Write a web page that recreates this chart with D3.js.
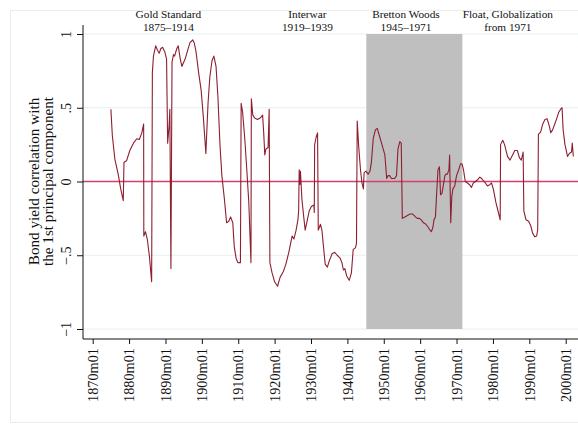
<!DOCTYPE html>
<html>
<head>
<meta charset="utf-8">
<script src="https://cdn.jsdelivr.net/npm/d3@7"></script>
<style>
  html, body { margin: 0; padding: 0; background: #fff; }
  svg { display: block; }
  text { font-family: "Liberation Serif", "Times New Roman", serif; fill: #111; }
</style>
</head>
<body>
<svg id="chart" width="578" height="433"></svg>
<script>
// Time (decimal years) and bond yield correlation with the 1st principal component
const t = [
  1875.0, 1875.4, 1876.1, 1877.0, 1877.7, 1878.4, 1878.6, 1879.3, 1880.2, 1881.2,
  1882.1, 1882.8, 1883.5, 1884.0, 1884.05, 1884.5, 1885.0, 1885.6, 1886.2, 1886.4,
  1886.7, 1887.3, 1887.8, 1888.3, 1888.7, 1889.2, 1889.8, 1890.3, 1890.6, 1891.0,
  1891.2, 1891.5, 1891.8, 1892.2, 1892.5, 1893.1, 1893.5, 1894.0, 1894.5, 1895.4,
  1896.0, 1896.7, 1897.5, 1897.9, 1898.4, 1899.1, 1899.8, 1900.4, 1901.1, 1901.7,
  1902.2, 1902.8, 1903.3, 1903.9, 1904.4, 1905.0, 1905.5, 1906.2, 1906.8, 1907.4,
  1907.9, 1908.5, 1908.9, 1909.4, 1909.9, 1910.6, 1910.8, 1911.2, 1911.8, 1912.3,
  1912.9, 1913.5, 1913.6, 1914.0, 1914.5, 1915.3, 1916.0, 1916.7, 1917.0, 1917.3,
  1917.6, 1918.2, 1918.5, 1918.7, 1919.3, 1920.0, 1920.8, 1921.5, 1922.4, 1923.1,
  1923.9, 1924.8, 1925.3, 1925.9, 1926.4, 1926.6, 1926.75, 1926.95, 1927.1, 1927.5,
  1928.0, 1928.4, 1929.0, 1929.5, 1930.1, 1930.8, 1930.9, 1931.0, 1931.4, 1931.8,
  1932.0, 1932.6, 1933.0, 1933.5, 1933.9, 1934.5, 1935.0, 1935.8, 1936.5, 1937.2,
  1938.0, 1938.5, 1938.9, 1939.3, 1939.8, 1940.5, 1941.1, 1941.6, 1942.2, 1942.5,
  1942.7, 1943.1, 1943.6, 1944.0, 1944.4, 1944.6, 1945.1, 1945.7, 1946.2, 1946.6,
  1947.1, 1947.7, 1948.2, 1948.8, 1949.5, 1950.3, 1950.8, 1951.2, 1951.6, 1952.1,
  1953.0, 1953.5, 1953.9, 1954.4, 1954.8, 1955.1, 1955.8, 1956.5, 1957.2, 1957.9,
  1958.7, 1959.2, 1959.8, 1960.3, 1960.9, 1961.6, 1962.2, 1962.7, 1963.1, 1963.5,
  1963.8, 1964.2, 1964.6, 1964.9, 1965.3, 1965.6, 1966.0, 1966.4, 1966.8, 1967.1,
  1967.5, 1967.9, 1968.1, 1968.4, 1968.7, 1969.0, 1969.5, 1970.0, 1970.6, 1971.1,
  1971.5, 1971.9, 1972.4, 1973.0, 1973.5, 1974.1, 1974.6, 1975.2, 1975.7, 1976.4,
  1976.9, 1977.6, 1978.5, 1979.2, 1979.6, 1980.1, 1980.8, 1981.4, 1982.0, 1982.1,
  1982.7, 1983.2, 1984.0, 1984.7, 1985.4, 1986.0, 1986.7, 1987.3, 1987.8, 1988.3,
  1988.5, 1989.1, 1989.8, 1990.4, 1990.9, 1991.5, 1992.0, 1992.3, 1992.5, 1993.1,
  1993.7, 1994.3, 1994.9, 1995.5, 1995.9, 1996.4, 1997.0, 1997.5, 1998.1, 1998.6,
  1999.0, 1999.3, 1999.8, 2000.5, 2001.0, 2001.6, 2001.8, 2002.1
];
const corr = [
  0.49, 0.31, 0.15, 0.05, -0.05, -0.13, 0.13, 0.14, 0.21, 0.26,
  0.29, 0.285, 0.33, 0.39, -0.37, -0.34, -0.39, -0.51, -0.68, 0.74,
  0.85, 0.92, 0.89, 0.87, 0.90, 0.91, 0.88, 0.83, 0.26, 0.38,
  0.49, -0.59, 0.81, 0.86, 0.85, 0.90, 0.92, 0.84, 0.78, 0.83,
  0.88, 0.94, 0.96, 0.94, 0.88, 0.74, 0.62, 0.44, 0.19, 0.53,
  0.71, 0.82, 0.85, 0.78, 0.58, 0.24, 0.04, -0.12, -0.28, -0.27,
  -0.24, -0.28, -0.44, -0.52, -0.55, -0.55, 0.53, 0.47, 0.29, 0.10,
  -0.14, -0.55, 0.56, 0.45, 0.43, 0.42, 0.43, 0.45, 0.33, 0.18,
  0.22, 0.23, 0.49, -0.55, -0.62, -0.68, -0.71, -0.65, -0.61, -0.56,
  -0.48, -0.37, -0.39, -0.33, -0.26, -0.20, 0.08, -0.02, 0.07, -0.12,
  -0.24, -0.33, -0.26, -0.20, -0.17, -0.16, -0.21, 0.25, 0.30, 0.33,
  -0.33, -0.29, -0.33, -0.46, -0.56, -0.58, -0.54, -0.49, -0.48, -0.50,
  -0.52, -0.55, -0.60, -0.59, -0.64, -0.67, -0.62, -0.46, -0.45, -0.42,
  0.41, 0.24, 0.08, -0.01, -0.05, 0.06, 0.07, 0.05, 0.07, 0.13,
  0.29, 0.35, 0.36, 0.31, 0.25, 0.18, 0.02, 0.04, 0.04, 0.02,
  0.02, 0.04, 0.22, 0.27, 0.26, -0.25, -0.24, -0.23, -0.22, -0.22,
  -0.24, -0.25, -0.25, -0.26, -0.28, -0.29, -0.31, -0.33, -0.34, -0.31,
  -0.26, -0.24, -0.05, 0.08, 0.10, -0.09, -0.08, -0.02, 0.04, 0.05,
  0.05, 0.08, 0.18, -0.28, -0.10, -0.05, -0.03, 0.04, 0.08, 0.12,
  0.12, 0.08, 0.00, -0.01, -0.02, -0.04, -0.01, 0.00, 0.01, 0.03,
  0.02, 0.00, -0.03, -0.02, -0.01, -0.05, -0.14, -0.20, -0.26, 0.25,
  0.28, 0.25, 0.17, 0.145, 0.18, 0.21, 0.21, 0.16, 0.145, 0.20,
  -0.20, -0.26, -0.27, -0.30, -0.35, -0.375, -0.37, -0.33, 0.32, 0.335,
  0.39, 0.42, 0.425, 0.375, 0.33, 0.35, 0.39, 0.425, 0.47, 0.49,
  0.50, 0.35, 0.25, 0.17, 0.19, 0.20, 0.26, 0.17
];

// Monetary regimes: header text and the year each header is centred on
const regimeTitles = ["Gold Standard", "Interwar", "Bretton Woods", "Float, Globalization"];
const regimeSubtitles = ["1875\u20131914", "1919\u20131939", "1945\u20131971", "from 1971"];
const regimeLabelAt = [1890.8, 1929.0, 1956.1, 1984.1];

// Shaded Bretton Woods period
const bandStart = 1945.2;
const bandEnd = 1971.6;

const xTicks = d3.range(1870, 2001, 10);
const yTicks = [-1, -0.5, 0, 0.5, 1];
const yTickText = ["\u22121", "\u2212.5", "0", ".5", "1"];

const svg = d3.select("#chart");
const W = 578;

const x = d3.scaleLinear().domain([1870, 2000]).range([92.7, 565.7]);
const y = d3.scaleLinear().domain([-1, 1]).range([329, 34]);

const plotLeft = 83, plotRight = W, axisY = 339, axisTop = 25;

// faint outer frame of the graph region
svg.append("rect")
  .attr("x", 10.5).attr("y", 10.5)
  .attr("width", W).attr("height", 412)
  .attr("fill", "none").attr("stroke", "#e6eef0").attr("stroke-width", 1);

// horizontal gridlines
svg.append("g").selectAll("line")
  .data(yTicks.filter(d => d !== 0))
  .join("line")
  .attr("x1", plotLeft).attr("x2", plotRight)
  .attr("y1", d => y(d)).attr("y2", d => y(d))
  .attr("stroke", "#e4eef0").attr("stroke-width", 1);

// Bretton Woods shading
svg.append("rect")
  .attr("x", x(bandStart)).attr("y", y(1))
  .attr("width", x(bandEnd) - x(bandStart))
  .attr("height", y(-1) - y(1))
  .attr("fill", "#bfbfbf");

// zero reference line
svg.append("line")
  .attr("x1", plotLeft).attr("x2", plotRight)
  .attr("y1", y(0)).attr("y2", y(0))
  .attr("stroke", "#d3426c").attr("stroke-width", 1.6);

// correlation series
const series = t.map((d, i) => [d, corr[i]]);
svg.append("path")
  .datum(series)
  .attr("fill", "none")
  .attr("stroke", "#8c1f30")
  .attr("stroke-width", 1.1)
  .attr("stroke-linejoin", "round")
  .attr("d", d3.line().x(d => x(d[0])).y(d => y(d[1])));

// x axis
const xAxis = svg.append("g")
  .attr("transform", `translate(0,${axisY})`)
  .call(d3.axisBottom(x).tickValues(xTicks).tickFormat(d => d + "m01").tickSize(5).tickSizeOuter(0));
xAxis.select(".domain").remove();
xAxis.selectAll(".tick line").attr("stroke", "#111").attr("stroke-width", 1);
xAxis.selectAll(".tick text")
  .attr("font-family", "Liberation Serif, serif")
  .attr("font-size", 14.3)
  .attr("fill", "#111")
  .attr("text-anchor", "end")
  .attr("y", 0).attr("dy", "0.33em")
  .attr("transform", "translate(0,9) rotate(-90)");
svg.append("line")
  .attr("x1", plotLeft).attr("x2", plotRight)
  .attr("y1", axisY).attr("y2", axisY)
  .attr("stroke", "#111").attr("stroke-width", 1);

// y axis
const yAxis = svg.append("g")
  .attr("transform", `translate(${plotLeft},0)`)
  .call(d3.axisLeft(y).tickValues(yTicks).tickFormat((d, i) => yTickText[i]).tickSize(6).tickSizeOuter(0));
yAxis.select(".domain").remove();
yAxis.selectAll(".tick line").attr("stroke", "#111").attr("stroke-width", 1);
yAxis.selectAll(".tick text")
  .attr("font-family", "Liberation Serif, serif")
  .attr("font-size", 14.3)
  .attr("fill", "#111")
  .attr("text-anchor", "middle")
  .attr("x", 0).attr("dy", 0)
  .attr("transform", "translate(-12,0) rotate(-90)");
svg.append("line")
  .attr("x1", plotLeft).attr("x2", plotLeft)
  .attr("y1", axisTop).attr("y2", axisY)
  .attr("stroke", "#111").attr("stroke-width", 1);

// y axis title (two lines)
const yTitle = svg.append("g")
  .attr("transform", `translate(0,${y(0)}) rotate(-90)`)
  .attr("text-anchor", "middle")
  .attr("font-size", 15.2);
yTitle.append("text").attr("x", 0).attr("y", 38.5).text("Bond yield correlation with");
yTitle.append("text").attr("x", 0).attr("y", 53).text("the 1st principal component");

// regime headers: name on the first line, period on the second
const heads = svg.append("g")
  .attr("text-anchor", "middle")
  .attr("font-size", 11.3);
heads.selectAll("text.name")
  .data(regimeTitles)
  .join("text")
  .attr("class", "name")
  .attr("x", (d, i) => x(regimeLabelAt[i])).attr("y", 18)
  .text(d => d);
heads.selectAll("text.period")
  .data(regimeSubtitles)
  .join("text")
  .attr("class", "period")
  .attr("x", (d, i) => x(regimeLabelAt[i])).attr("y", 30.5)
  .text(d => d);
</script>
</body>
</html>
